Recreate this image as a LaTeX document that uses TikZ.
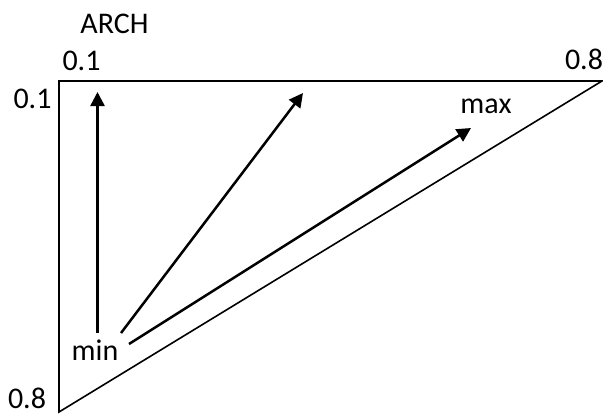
\documentclass[tikz,border=0pt]{standalone}
\usepackage{fontspec}
\setmainfont{Carlito}
\usetikzlibrary{arrows.meta}
\begin{document}
\begin{tikzpicture}[x=1pt,y=-1pt,
  lbl/.style={inner sep=0pt,anchor=base,font=\fontsize{30}{34}\selectfont},
  edge/.style={line width=1.6pt},
  ray/.style={line width=2.5pt,-{Triangle[length=14pt,width=14pt]}}]
\useasboundingbox (0,0) rectangle (603,415);
\coordinate (tl) at (59,81);
\coordinate (tr) at (602,81);
\coordinate (bl) at (59,412);
\draw[edge,line join=miter] (tr) -- (tl) -- (bl) -- cycle;
\node[lbl] (arch) at (114.5,33) {ARCH};
\node[lbl] (xa) at (81.5,70) {0.1};
\node[lbl] (xb) at (584,69) {0.8};
\node[lbl] (ya) at (32.5,108) {0.1};
\node[lbl] (yb) at (27,408) {0.8};
\node[lbl] (mx) at (486,113) {max};
\node[lbl] (mn) at (95,360) {min};
\coordinate (s1) at (97.5,333);
\coordinate (e1) at (97.5,92);
\coordinate (s2) at (121,333);
\coordinate (e2) at (303,93);
\coordinate (s3) at (129,344);
\coordinate (e3) at (471,128);
\draw[ray] (s1) -- (e1);
\draw[ray] (s2) -- (e2);
\draw[ray] (s3) -- (e3);
\end{tikzpicture}
\end{document}
